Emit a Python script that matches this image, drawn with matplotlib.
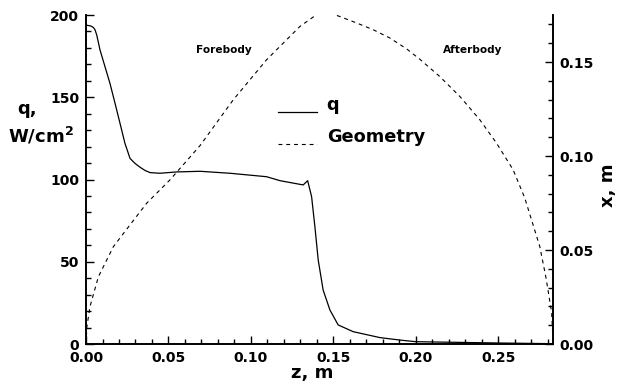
import numpy as np
import matplotlib.pyplot as plt
from matplotlib.ticker import MultipleLocator
from matplotlib.legend_handler import HandlerLine2D

plt.rcParams['font.family'] = ['DejaVu Sans']
plt.rcParams['font.weight'] = 'bold'

# heat flux along the body
z_q = [0.0, 0.003, 0.0045, 0.0055, 0.0065, 0.0085, 0.0115, 0.0145, 0.0176, 0.0206,
       0.0236, 0.0267, 0.0297, 0.0327, 0.0358, 0.0388, 0.0448, 0.0549, 0.0691,
       0.0873, 0.1095, 0.1176, 0.1317, 0.1344, 0.1368, 0.1388, 0.1408, 0.1438,
       0.1479, 0.1529, 0.1620, 0.1782, 0.1903, 0.2000, 0.2510, 0.2830]
q = [193.9, 193.3, 192.4, 190.9, 187.8, 178.7, 168.6, 158.5, 146.3, 134.2,
     122.0, 112.8, 109.8, 107.5, 105.5, 104.2, 103.8, 104.6, 105.0,
     103.8, 101.7, 99.3, 96.7, 99.3, 89.6, 71.3, 51.1, 32.8,
     20.7, 11.6, 7.5, 3.9, 2.4, 1.4, 0.6, 0.2]

# body contour
z_g = [0.0, 0.0005, 0.0024, 0.0075, 0.0166, 0.0267, 0.0368, 0.0509, 0.0691, 0.0893,
       0.1095, 0.1297, 0.1398, 0.1425, 0.1509, 0.1640, 0.1741, 0.1842, 0.1944, 0.2024,
       0.2145, 0.2267, 0.2388, 0.2489, 0.2590, 0.2661, 0.2752, 0.2790, 0.2824, 0.2833]
x_g = [0.0, 0.009, 0.0199, 0.0358, 0.0518, 0.0634, 0.0749, 0.0873, 0.1055, 0.1299,
       0.1512, 0.1689, 0.1752, 0.1779, 0.1752, 0.1708, 0.1672, 0.1628, 0.1570, 0.1515,
       0.1423, 0.1317, 0.1193, 0.1069, 0.0927, 0.0776, 0.0518, 0.0350, 0.0165, 0.0]


class LowLine(HandlerLine2D):
    # legend sample sits near the text baseline, like the original
    def create_artists(self, *args, **kw):
        arts = super().create_artists(*args, **kw)
        for a in arts:
            a.set_ydata(np.asarray(a.get_ydata()) - 6)
        return arts


fig = plt.figure(figsize=(6.18, 3.86), dpi=100)
ax = fig.add_axes([0.1392, 0.1088, 0.7551, 0.8523])
ax2 = ax.twinx()

l1, = ax.plot(z_q, q, color='black', lw=0.9)
l2, = ax2.plot(z_g, x_g, color='black', lw=0.8, dashes=(3.5, 3.5))

ax.set_xlim(0, 0.283)
ax.set_ylim(0, 200)
ax2.set_ylim(0, 0.175)

ax.xaxis.set_major_locator(MultipleLocator(0.05))
ax.xaxis.set_minor_locator(MultipleLocator(0.01))
ax.yaxis.set_major_locator(MultipleLocator(50))
ax.yaxis.set_minor_locator(MultipleLocator(10))
ax2.yaxis.set_major_locator(MultipleLocator(0.05))
ax2.yaxis.set_minor_locator(MultipleLocator(0.01))
ax.xaxis.set_major_formatter(plt.FormatStrFormatter('%.2f'))
ax2.yaxis.set_major_formatter(plt.FormatStrFormatter('%.2f'))

for a in (ax, ax2):
    a.spines['top'].set_visible(False)
    for s in a.spines.values():
        s.set_linewidth(1.2)
    a.tick_params(which='major', direction='in', length=6, width=1, labelsize=10, pad=5)
    a.tick_params(which='minor', direction='in', length=3.5, width=1)

# axis titles
fig.text(311.7 / 618, 1 - 378 / 386, 'z, m', fontsize=13, fontweight='bold', ha='center', va='baseline')
fig.text(17 / 618, 1 - 114 / 386, 'q,', fontsize=13, fontweight='bold', ha='left', va='baseline')
fig.text(8 / 618, 1 - 143 / 386, 'W/cm$^\\mathbf{2}$', fontsize=13, fontweight='bold', ha='left', va='baseline')
fig.text(0.984, 1 - 185 / 386, 'x, m', fontsize=13, fontweight='bold', ha='center', va='center', rotation=90)

ax.text(0.0839, 178.7, 'Forebody', fontsize=7.6, fontweight='bold', ha='center', va='center')
ax.text(0.2342, 178.7, 'Afterbody', fontsize=7.6, fontweight='bold', ha='center', va='center')

fig.legend([l1, l2], ['q', 'Geometry'], loc='center left', bbox_to_anchor=(278 / 618, 1 - 121 / 386),
           frameon=False, fontsize=12.75, handlelength=2.2, handletextpad=0.55, labelspacing=0.75,
           borderpad=0, borderaxespad=0, handler_map={l1: LowLine(), l2: LowLine()})

fig.savefig('out.png', dpi=100)
